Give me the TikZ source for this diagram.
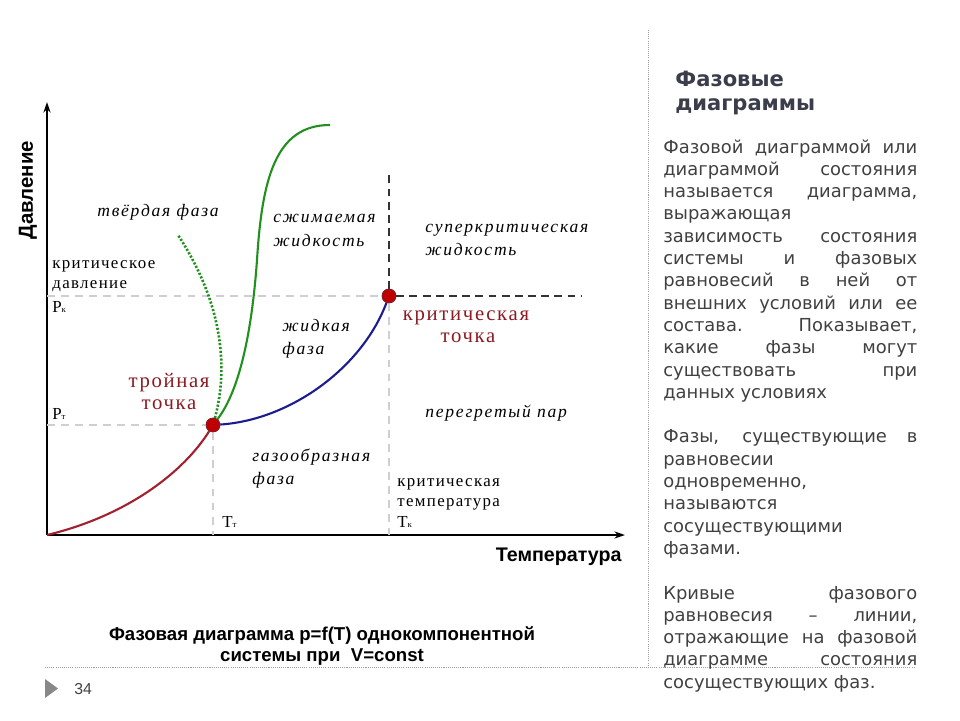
\documentclass[tikz,border=0pt]{standalone}
\usepackage{fontspec}
\setmainfont{Liberation Serif}
\newfontfamily\plotfont{Liberation Serif}[LetterSpace=8]
\newfontfamily\phasefont{Liberation Serif}[LetterSpace=10]
\newfontfamily\bodyfont{DejaVu Sans}
\newfontfamily\capfont{Liberation Sans}
\usetikzlibrary{arrows.meta}
\definecolor{figtext}{HTML}{404040}
\definecolor{figtitle}{HTML}{3B3E4A}
\definecolor{figdark}{HTML}{8B1A22}
\definecolor{figred}{HTML}{A3202E}
\definecolor{figblue}{HTML}{1C1C8F}
\definecolor{figgreen}{HTML}{22901E}
\definecolor{figdot}{HTML}{C00000}
\definecolor{figlight}{HTML}{CFCFCF}
\definecolor{figdarkdash}{HTML}{333333}
\definecolor{figframe}{HTML}{A0A0A0}
\tikzset{
  figaxis/.style={draw=black, line width=1.5pt, -{Stealth[length=6pt,width=4pt]}},
  figguide/.style={draw=figlight, line width=0.9pt, dash pattern=on 4.5pt off 3.5pt},
  figguidedark/.style={draw=figdarkdash, line width=1.1pt, dash pattern=on 4.5pt off 3pt},
  figcurve/.style={line width=1.2pt},
  figpoint/.style={circle, fill=figdot, draw=figdark, line width=0.6pt, minimum size=0.27cm, inner sep=0pt},
  figlabel/.style={anchor=base west, inner sep=0pt, font=\plotfont\fontsize{9.6}{11}\selectfont},
  figphase/.style={anchor=base west, inner sep=0pt, font=\phasefont\itshape\fontsize{10}{12}\selectfont},
  figmark/.style={anchor=base, inner sep=0pt, text=figdark, font=\plotfont\fontsize{11.8}{13}\selectfont},
  figbody/.style={anchor=base west, inner sep=0pt, text=figtext, font=\bodyfont\fontsize{10.2}{12}\selectfont},
  figframeline/.style={draw=figframe, line width=0.5pt, dash pattern=on 0.6pt off 0.6pt}
}
\begin{document}
\begin{tikzpicture}[x=0.02cm,y=-0.02cm]
  \useasboundingbox (0,0) rectangle (960,720);
  % axes
  \coordinate (O) at (47,535);
  \coordinate (ytop) at (47,102);
  \coordinate (xend) at (625,535);
  \draw[figaxis] (O) -- (ytop);
  \draw[figaxis] (O) -- (xend);
  \node[rotate=90, inner sep=0pt, font=\capfont\bfseries\fontsize{11.6}{13}\selectfont] (ylab) at (28,190) {Давление};
  \node[anchor=base east, inner sep=0pt, font=\capfont\bfseries\fontsize{11.2}{13}\selectfont] (xlab) at (622,561) {Температура};
  % triple and critical points
  \node[figpoint] (tp) at (213,425) {};
  \node[figpoint] (cp) at (389,296) {};
  % guide lines
  \coordinate (pk) at (47,296);
  \coordinate (pt) at (47,425);
  \coordinate (tt) at (213,535);
  \coordinate (tk) at (389,535);
  \coordinate (tktop) at (389,173);
  \coordinate (pkend) at (582,296);
  \draw[figguide] (pk) -- (cp.west);
  \draw[figguide] (pt) -- (tp.west);
  \draw[figguide] (tp.south) -- (tt);
  \draw[figguide] (cp.south) -- (tk);
  \draw[figguidedark] (cp.north) -- (tktop);
  \draw[figguidedark] (cp.east) -- (pkend);
  % equilibrium curves
  \draw[figcurve, figred] (O) .. controls (130,515) and (185,470) .. (tp);
  \draw[figcurve, figblue] (tp) .. controls (290,420) and (362,368) .. (cp);
  \draw[figcurve, figgreen] (tp) .. controls (240,390) and (252,330) .. (257,260)
    .. controls (262,180) and (275,125) .. (330,125);
  \draw[figcurve, figgreen, line width=1.5pt, dash pattern=on 1.2pt off 1pt]
    (tp) .. controls (228,370) and (224,305) .. (178,235);
  \node[figpoint] at (tp) {};
  \node[figpoint] at (cp) {};
  % axis marks
  \node[figlabel] (kd1) at (52,268) {критическое};
  \node[figlabel] (kd2) at (52,288) {давление};
  \node[figlabel] (pklab) at (52,312) {P{\fontsize{5}{6}\selectfont к}};
  \node[figlabel] (ptlab) at (52,419) {P{\fontsize{5}{6}\selectfont т}};
  \node[figlabel] (ttlab) at (222,527) {T{\fontsize{5}{6}\selectfont т}};
  \node[figlabel] (kt1) at (397,486) {критическая};
  \node[figlabel] (kt2) at (397,506) {температура};
  \node[figlabel] (tklab) at (397,527) {T{\fontsize{5}{6}\selectfont к}};
  % phase regions
  \node[figphase] (solid) at (97,216) {твёрдая фаза};
  \node[figphase] (comp1) at (273,222) {сжимаемая};
  \node[figphase] (comp2) at (273,246) {жидкость};
  \node[figphase] (super1) at (425,232) {суперкритическая};
  \node[figphase] (super2) at (425,255) {жидкость};
  \node[figphase] (liq1) at (282,331) {жидкая};
  \node[figphase] (liq2) at (282,354) {фаза};
  \node[figphase] (vap) at (425,417) {перегретый пар};
  \node[figphase] (gas1) at (252,461) {газообразная};
  \node[figphase] (gas2) at (252,484) {фаза};
  % point names
  \node[figmark] (tpl1) at (169,387) {тройная};
  \node[figmark] (tpl2) at (169,409) {точка};
  \node[figmark] (cpl1) at (466,320) {критическая};
  \node[figmark] (cpl2) at (468,342) {точка};
  % caption
  \node[anchor=base, inner sep=0pt, font=\capfont\bfseries\fontsize{10.6}{12}\selectfont] (cap1) at (322,640) {Фазовая диаграмма p=f(T) однокомпонентной};
  \node[anchor=base, inner sep=0pt, font=\capfont\bfseries\fontsize{10.6}{12}\selectfont] (cap2) at (322,661) {системы при\ \ V=const};
  % slide frame
  \coordinate (vtop) at (648,30);
  \coordinate (vbot) at (648,667);
  \coordinate (hleft) at (45,667);
  \coordinate (hright) at (915,667);
  \draw[figframeline] (vtop) -- (vbot);
  \draw[figframeline] (hleft) -- (hright);
  \fill[figframe!85!black] (45,679) -- (58,688.5) -- (45,698) -- cycle;
  \node[anchor=base west, inner sep=0pt, text=figtext, font=\capfont\fontsize{9}{11}\selectfont] (pg) at (74,694) {34};
  % side text
  \node[anchor=base west, inner sep=0pt, text=figtitle, font=\bodyfont\bfseries\fontsize{12}{14}\selectfont] (tt1) at (675,86) {Фазовые};
  \node[anchor=base west, inner sep=0pt, text=figtitle, font=\bodyfont\bfseries\fontsize{12}{14}\selectfont] (tt2) at (675,110) {диаграммы};
  \foreach \s/\txt/\j in {0/{Фазовой диаграммой или}/s, 1/{диаграммой состояния}/s,
      2/{называется диаграмма,}/s, 3/{выражающая}/l, 4/{зависимость состояния}/s,
      5/{системы и фазовых}/s, 6/{равновесий в ней от}/s, 7/{внешних условий или ее}/s,
      8/{состава. Показывает,}/s, 9/{какие фазы могут}/s, 10/{существовать при}/s,
      11/{данных условиях}/l, 13/{Фазы, существующие в}/s, 14/{равновесии}/l,
      15/{одновременно,}/l, 16/{называются}/l, 17/{сосуществующими}/l, 18/{фазами.}/l,
      20/{Кривые фазового}/s, 21/{равновесия – линии,}/s, 22/{отражающие на фазовой}/s,
      23/{диаграмме состояния}/s, 24/{сосуществующих фаз.}/l} {
    \node[figbody] (line\s) at (663,{153+22.3*\s}) {\makebox[5.08cm][\j]{\txt}};
  }
\end{tikzpicture}
\end{document}
